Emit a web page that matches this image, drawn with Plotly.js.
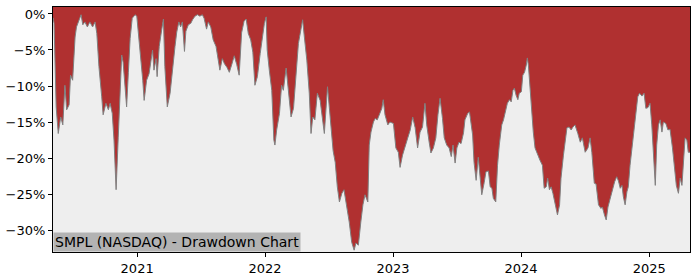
<!DOCTYPE html>
<html>
<head>
<meta charset="utf-8">
<script src="https://cdn.plot.ly/plotly-3.0.1.min.js"></script>
<style>html,body{margin:0;padding:0;background:#fff;}#chart{width:700px;height:280px;}</style>
</head>
<body>
<div id="chart"></div>
<script>
const dates = [
"2020-05-06","2020-05-09","2020-05-15","2020-05-21","2020-05-28","2020-06-03","2020-06-09","2020-06-14","2020-06-21","2020-06-25",
"2020-07-01","2020-07-08","2020-07-12","2020-07-19","2020-07-25","2020-07-30","2020-08-05","2020-08-12","2020-08-19","2020-08-27",
"2020-09-03","2020-09-08","2020-09-14","2020-09-22","2020-09-26","2020-10-04","2020-10-11","2020-10-16","2020-10-22","2020-10-27",
"2020-11-02","2020-11-08","2020-11-13","2020-11-18","2020-11-22","2020-11-29","2020-12-02","2020-12-07","2020-12-12","2020-12-18",
"2020-12-26","2020-12-31","2021-01-05","2021-01-09","2021-01-17","2021-01-21","2021-01-28","2021-02-04","2021-02-09","2021-02-14",
"2021-02-18","2021-02-24","2021-02-27","2021-03-05","2021-03-12","2021-03-17","2021-03-21","2021-03-28","2021-04-05","2021-04-12",
"2021-04-19","2021-04-24","2021-04-30","2021-05-05","2021-05-10","2021-05-16","2021-05-20","2021-05-27","2021-06-03","2021-06-08",
"2021-06-15","2021-06-22","2021-06-29","2021-07-06","2021-07-11","2021-07-18","2021-07-23","2021-07-30","2021-08-06","2021-08-14",
"2021-08-21","2021-08-25","2021-09-01","2021-09-07","2021-09-14","2021-09-21","2021-09-28","2021-10-05","2021-10-12","2021-10-19",
"2021-10-26","2021-11-02","2021-11-08","2021-11-14","2021-11-21","2021-11-27","2021-12-03","2021-12-10","2021-12-18","2021-12-24",
"2021-12-30","2022-01-04","2022-01-07","2022-01-13","2022-01-20","2022-01-26","2022-01-29","2022-02-03","2022-02-11","2022-02-17",
"2022-02-22","2022-03-02","2022-03-08","2022-03-16","2022-03-23","2022-03-30","2022-04-06","2022-04-13","2022-04-18","2022-04-23",
"2022-04-30","2022-05-07","2022-05-12","2022-05-17","2022-05-23","2022-05-30","2022-06-07","2022-06-13","2022-06-19","2022-06-28",
"2022-07-03","2022-07-10","2022-07-14","2022-07-20","2022-07-26","2022-08-01","2022-08-08","2022-08-14","2022-08-22","2022-08-29",
"2022-09-05","2022-09-12","2022-09-17","2022-09-24","2022-10-01","2022-10-07","2022-10-13","2022-10-21","2022-10-25","2022-10-30",
"2022-11-06","2022-11-11","2022-11-17","2022-11-25","2022-11-30","2022-12-04","2022-12-09","2022-12-17","2022-12-23","2023-01-02",
"2023-01-09","2023-01-16","2023-01-21","2023-01-28","2023-02-04","2023-02-12","2023-02-19","2023-02-26","2023-03-05","2023-03-12",
"2023-03-19","2023-03-26","2023-04-02","2023-04-07","2023-04-14","2023-04-19","2023-04-26","2023-05-03","2023-05-09","2023-05-15",
"2023-05-22","2023-05-27","2023-06-03","2023-06-10","2023-06-16","2023-06-21","2023-06-27","2023-07-02","2023-07-08","2023-07-14",
"2023-07-21","2023-07-25","2023-08-02","2023-08-07","2023-08-14","2023-08-16","2023-08-20","2023-08-26","2023-09-01","2023-09-06",
"2023-09-11","2023-09-18","2023-09-23","2023-09-30","2023-10-05","2023-10-10","2023-10-14","2023-10-21","2023-10-26","2023-10-31",
"2023-11-07","2023-11-12","2023-11-17","2023-11-23","2023-11-29","2023-12-04","2023-12-09","2023-12-13","2023-12-18","2023-12-23",
"2023-12-27","2024-01-02","2024-01-06","2024-01-11","2024-01-16","2024-01-19","2024-01-22","2024-01-27","2024-02-01","2024-02-05",
"2024-02-10","2024-02-17","2024-02-24","2024-03-02","2024-03-07","2024-03-13","2024-03-17","2024-03-22","2024-03-27","2024-04-01",
"2024-04-07","2024-04-14","2024-04-20","2024-04-24","2024-05-01","2024-05-06","2024-05-11","2024-05-17","2024-05-23","2024-05-28",
"2024-06-03","2024-06-11","2024-06-18","2024-06-24","2024-07-02","2024-07-10","2024-07-16","2024-07-21","2024-07-28","2024-08-02",
"2024-08-09","2024-08-16","2024-08-20","2024-08-26","2024-08-31","2024-09-05","2024-09-11","2024-09-18","2024-09-24","2024-09-30",
"2024-10-05","2024-10-10","2024-10-15","2024-10-19","2024-10-24","2024-10-29","2024-11-02","2024-11-07","2024-11-14","2024-11-20",
"2024-11-24","2024-11-29","2024-12-04","2024-12-11","2024-12-17","2024-12-22","2024-12-28","2025-01-03","2025-01-08","2025-01-13",
"2025-01-18","2025-01-22","2025-01-27","2025-02-01","2025-02-06","2025-02-10","2025-02-17","2025-02-23","2025-03-01","2025-03-08",
"2025-03-14","2025-03-19","2025-03-25","2025-03-30","2025-04-04","2025-04-08","2025-04-13","2025-04-18","2025-04-22","2025-04-27"
];
const drawdownPct = [
-0.5,-1.3,-12.9,-16.6,-14.3,-15.4,-9.9,-13.3,-12.6,-8.5,
-9.2,-3.2,-1.8,-0.8,-0.1,-1.5,-1.1,-1.8,-1.1,-1.8,
-1.1,-2.7,-7.3,-11.5,-14.0,-12.4,-13.3,-12.4,-13.8,-17.5,
-24.4,-17.2,-10.3,-5.7,-6.7,-10.3,-12.9,-8.1,-3.4,-0.6,
-0.1,-0.3,-2.7,-4.5,-9.2,-12.0,-9.2,-8.3,-6.4,-5.0,
-7.8,-6.2,-8.7,-4.5,-2.2,-0.7,-7.3,-12.9,-11.0,-7.3,
-4.5,-2.5,-1.1,-1.8,-1.1,-5.2,-2.4,-1.5,-1.3,-0.8,
-0.3,-0.1,-0.3,-0.1,-0.6,-2.1,-1.1,-1.8,-3.6,-4.5,
-6.7,-7.8,-6.2,-6.9,-7.4,-8.1,-7.0,-5.8,-7.0,-8.5,
-2.6,-1.0,-0.7,-2.7,-3.6,-5.3,-9.9,-8.7,-5.5,-3.0,
-1.3,-0.4,-5.0,-7.8,-10.6,-17.5,-18.2,-16.1,-13.8,-9.9,
-10.6,-7.5,-10.1,-14.3,-13.1,-8.7,-4.1,-2.2,-0.8,-3.2,
-6.4,-11.0,-16.6,-14.3,-14.7,-11.0,-12.0,-14.3,-16.6,-10.1,
-13.3,-17.5,-19.0,-20.6,-24.0,-26.1,-24.9,-24.4,-26.5,-28.9,
-31.7,-32.8,-31.8,-32.1,-28.9,-26.5,-25.1,-26.1,-18.2,-16.4,
-15.0,-14.5,-14.7,-13.8,-13.1,-11.9,-14.0,-15.4,-15.0,-15.2,
-18.6,-19.2,-21.3,-19.6,-18.6,-17.2,-16.1,-14.3,-15.8,-18.6,
-16.4,-15.7,-12.4,-15.4,-17.8,-19.3,-18.6,-17.2,-14.0,-11.7,
-14.5,-17.2,-18.2,-18.6,-19.8,-18.2,-20.7,-18.6,-17.8,-18.0,
-16.5,-14.7,-13.8,-13.6,-16.1,-16.8,-20.6,-23.1,-19.9,-22.8,
-25.1,-23.4,-21.9,-21.8,-24.0,-24.2,-25.6,-26.1,-21.0,-18.2,
-15.4,-14.7,-13.6,-12.4,-11.9,-12.2,-10.6,-10.3,-11.3,-11.9,
-11.0,-10.8,-8.5,-8.1,-7.1,-6.1,-7.1,-11.0,-13.6,-16.4,
-18.6,-19.6,-20.3,-21.0,-24.2,-24.0,-22.8,-24.4,-24.0,-24.9,
-26.5,-27.9,-26.5,-22.8,-19.6,-17.8,-15.8,-15.7,-16.1,-15.7,
-15.4,-16.6,-17.8,-17.2,-19.2,-18.6,-17.2,-19.2,-23.5,-23.6,
-26.5,-27.0,-26.8,-27.9,-28.6,-26.8,-25.6,-24.2,-23.3,-22.6,
-23.2,-24.2,-23.8,-25.4,-26.5,-24.7,-24.0,-21.0,-18.2,-15.8,
-13.6,-11.5,-11.0,-11.4,-11.0,-13.1,-13.0,-12.4,-15.4,-20.0,
-23.8,-18.2,-15.4,-14.7,-16.4,-15.0,-15.2,-16.1,-16.0,-18.6,
-21.0,-23.8,-24.9,-22.8,-23.8,-21.0,-17.2,-17.5,-19.2,-19.2
];
const yTicks = [0, -5, -10, -15, -20, -25, -30];
const yTickLabels = ["0%", "\u22125%", "\u221210%", "\u221215%", "\u221220%", "\u221225%", "\u221230%"];
const xTicks = ["2021-01-01","2022-01-01","2023-01-01","2024-01-01","2025-01-01"];
const xTickLabels = ["2021","2022","2023","2024","2025"];
const chartLabel = "SMPL (NASDAQ) - Drawdown Chart";

const xRange = [dates[0], dates[dates.length-1]];
const yRange = [-33.05, 0.97];
const ceiling = yRange[1] + 5;

const traces = [
  {x: xRange, y: [ceiling, ceiling], mode: 'lines', line: {width: 0, color: 'rgba(0,0,0,0)'}, hoverinfo: 'skip', showlegend: false},
  {x: dates, y: drawdownPct, mode: 'lines', line: {color: '#808080', width: 1}, fill: 'tonexty', fillcolor: '#b03030', showlegend: false}
];

const tickFont = {family: 'DejaVu Sans, sans-serif', size: 13, color: '#000'};
const labelFont = {family: 'DejaVu Sans, sans-serif', size: 14, color: '#000'};
const layout = {
  width: 700, height: 280,
  margin: {l: 53, r: 10, t: 7, b: 28},
  paper_bgcolor: '#ffffff',
  plot_bgcolor: '#eeeeee',
  font: tickFont,
  showlegend: false,
  xaxis: {
    type: 'date', range: xRange,
    tickvals: xTicks, ticktext: xTickLabels,
    showgrid: false, zeroline: false,
    showline: true, linecolor: '#000', linewidth: 1, mirror: true,
    ticks: 'outside', ticklen: 4, tickcolor: '#000', tickfont: tickFont
  },
  yaxis: {
    range: yRange, tickvals: yTicks, ticktext: yTickLabels,
    showgrid: false, zeroline: false,
    showline: true, linecolor: '#000', linewidth: 1, mirror: true,
    ticks: 'outside', ticklen: 4, tickcolor: '#000', tickfont: tickFont
  },
  annotations: [{
    xref: 'paper', yref: 'paper', x: 0, y: 0, xanchor: 'left', yanchor: 'bottom',
    text: chartLabel, showarrow: false, font: labelFont,
    bgcolor: '#b3b3b3', borderpad: 1
  }]
};
Plotly.newPlot('chart', traces, layout, {staticPlot: true, displayModeBar: false});
</script>
</body>
</html>
